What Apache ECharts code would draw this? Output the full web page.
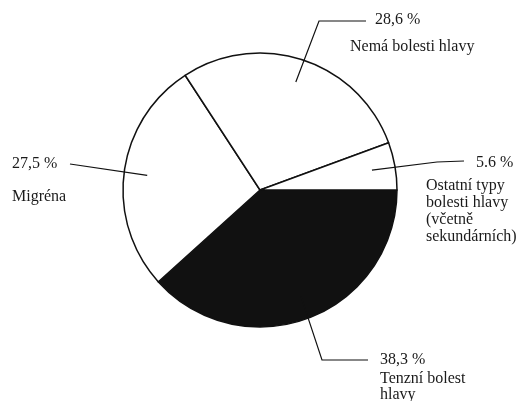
<!DOCTYPE html>
<html>
<head>
<meta charset="utf-8">
<script src="https://cdn.jsdelivr.net/npm/echarts@6/dist/echarts.min.js"></script>
<style>
  html, body { margin: 0; padding: 0; background: #fff; }
  #chart { width: 519px; height: 401px; }
</style>
</head>
<body>
<div id="chart"></div>
<script>
// podíly typů bolesti hlavy
const categories = ['Tenzní bolest\nhlavy', 'Migréna', 'Nemá bolesti hlavy', 'Ostatní typy\nbolesti hlavy\n(včetně\nsekundárních)'];
const values = [38.3, 27.5, 28.6, 5.6];
const valueLabels = ['38,3 %', '27,5 %', '28,6 %', '5.6 %'];
const colors = ['#111', '#fff', '#fff', '#fff'];

// rozvržení popisků (pozice, ne data)
const center = [260, 190];
const radius = 137;
const labelPos = [
  { pct: [380, 360], name: [380, 379], lh: 16, path: [[322, 360], [368, 360]] },
  { pct: [12, 164], name: [12, 197], lh: 16, path: [[70, 164]] },
  { pct: [375, 20], name: [350, 47], lh: 16, path: [[319, 21], [366, 21]] },
  { pct: [476, 163], name: [426, 186], lh: 16.8, path: [[437, 162], [464, 161]] }
];

const font = '16px "Liberation Serif", "DejaVu Serif", serif';
const total = values.reduce((a, b) => a + b, 0);
const graphics = [];
let acc = 0;
values.forEach((v, i) => {
  // start of the leader line: inside the slice at its mid-angle
  const mid = (acc + v / 2) / total * 2 * Math.PI;
  acc += v;
  const start = [center[0] + Math.cos(mid) * radius * 0.83, center[1] + Math.sin(mid) * radius * 0.83];
  const lp = labelPos[i];
  graphics.push({
    type: 'polyline',
    z: 10,
    shape: { points: [start].concat(lp.path) },
    style: { stroke: '#111', lineWidth: 1.2, fill: null }
  });
  graphics.push({
    type: 'text',
    z: 10,
    style: { text: valueLabels[i], x: lp.pct[0], y: lp.pct[1], font: font, fill: '#1a1a1a',
      align: 'left', verticalAlign: 'middle', textAlign: 'left', textVerticalAlign: 'middle' }
  });
  categories[i].split('\n').forEach((line, k) => {
    graphics.push({
      type: 'text',
      z: 10,
      style: { text: line, x: lp.name[0], y: lp.name[1] + k * lp.lh, font: font, fill: '#1a1a1a',
        align: 'left', verticalAlign: 'middle', textAlign: 'left', textVerticalAlign: 'middle' }
    });
  });
});

const myChart = echarts.init(document.getElementById('chart'));
myChart.setOption({
  backgroundColor: '#fff',
  animation: false,
  graphic: graphics,
  series: [
    {
      type: 'pie',
      center: center,
      radius: radius,
      startAngle: 0,
      clockwise: true,
      silent: true,
      label: { show: false },
      labelLine: { show: false },
      emphasis: { disabled: true },
      itemStyle: { borderColor: '#111', borderWidth: 1.5 },
      data: values.map((v, i) => ({ name: categories[i], value: v, itemStyle: { color: colors[i] } }))
    }
  ]
});
</script>
</body>
</html>
